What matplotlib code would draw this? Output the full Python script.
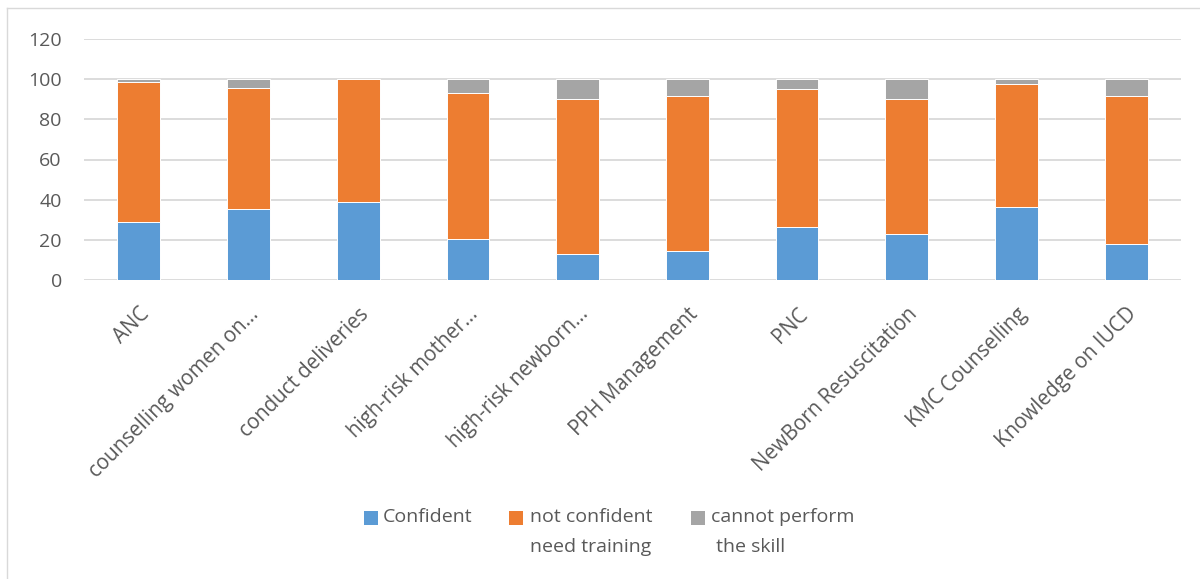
import matplotlib as mpl
import matplotlib.pyplot as plt
import numpy as np

categories = [
    "ANC",
    "counselling women on…",
    "conduct deliveries",
    "high-risk mother…",
    "high-risk newborn…",
    "PPH Management",
    "PNC",
    "NewBorn Resuscitation",
    "KMC Counselling",
    "Knowledge on IUCD",
]
confident = [29.0, 35.2, 38.6, 20.2, 12.8, 14.3, 26.4, 22.7, 36.2, 17.7]
not_confident = [69.8, 60.2, 61.4, 72.7, 77.4, 77.1, 68.8, 67.5, 61.5, 73.7]
cannot_perform = [1.2, 4.6, 0.0, 7.1, 9.8, 8.6, 4.8, 9.8, 2.3, 8.6]

series_labels = ["Confident", "not confident\nneed training", "cannot perform\n the skill"]
colors = ["#5B9BD5", "#ED7D31", "#A5A5A5"]
text_color = "#595959"

W, H = 1200, 579
mpl.rcParams.update({
    "font.family": ["Open Sans", "DejaVu Sans"],
    "font.size": 14,
})

fig = plt.figure(figsize=(W / 100, H / 100), dpi=100)
ax = fig.add_axes([84 / W, 1 - 280 / H, 1097 / W, 241 / H])

x = np.arange(len(categories))
bottom = np.zeros(len(categories))
for vals, col in zip([confident, not_confident, cannot_perform], colors):
    ax.bar(x, vals, width=0.39, bottom=bottom, color=col,
           edgecolor="white", linewidth=0.7, zorder=3)
    bottom += np.array(vals)

ax.set_xlim(-0.5, len(categories) - 0.5)
ax.set_ylim(0, 120)
ax.set_yticks(range(0, 121, 20))
ax.grid(axis="y", color="#D9D9D9", linewidth=1.3, zorder=0)
for s in ax.spines.values():
    s.set_visible(False)
ax.tick_params(axis="both", length=0, colors=text_color, labelsize=14)
ax.tick_params(axis="y", pad=16)
ax.set_xticks(x)
ax.set_xticklabels(categories, rotation=45, ha="right", va="top",
                   rotation_mode="anchor", fontsize=14.8)
ax.tick_params(axis="x", pad=17)

# legend drawn by hand so the swatch sits on the first text line
leg_swatch_x = [364, 509, 691]
leg_text_x = [383, 530, 711]
top_y = 508
for sx, tx, lab, col in zip(leg_swatch_x, leg_text_x, series_labels, colors):
    fig.patches.append(mpl.patches.Rectangle(
        (sx / W, 1 - 525 / H), 14 / W, 14 / H, transform=fig.transFigure,
        facecolor=col, edgecolor="none"))
    fig.text(tx / W, 1 - top_y / H, lab, ha="left", va="top",
             color=text_color, fontsize=14, linespacing=1.85)

# chart frame (left and top edges visible in the reference)
fig.add_artist(mpl.lines.Line2D([7 / W, 7 / W], [0, 1 - 8 / H],
                                transform=fig.transFigure, color="#D9D9D9", lw=1))
fig.add_artist(mpl.lines.Line2D([7 / W, 1], [1 - 8 / H, 1 - 8 / H],
                                transform=fig.transFigure, color="#D9D9D9", lw=1))

fig.savefig("out.png", dpi=100)
